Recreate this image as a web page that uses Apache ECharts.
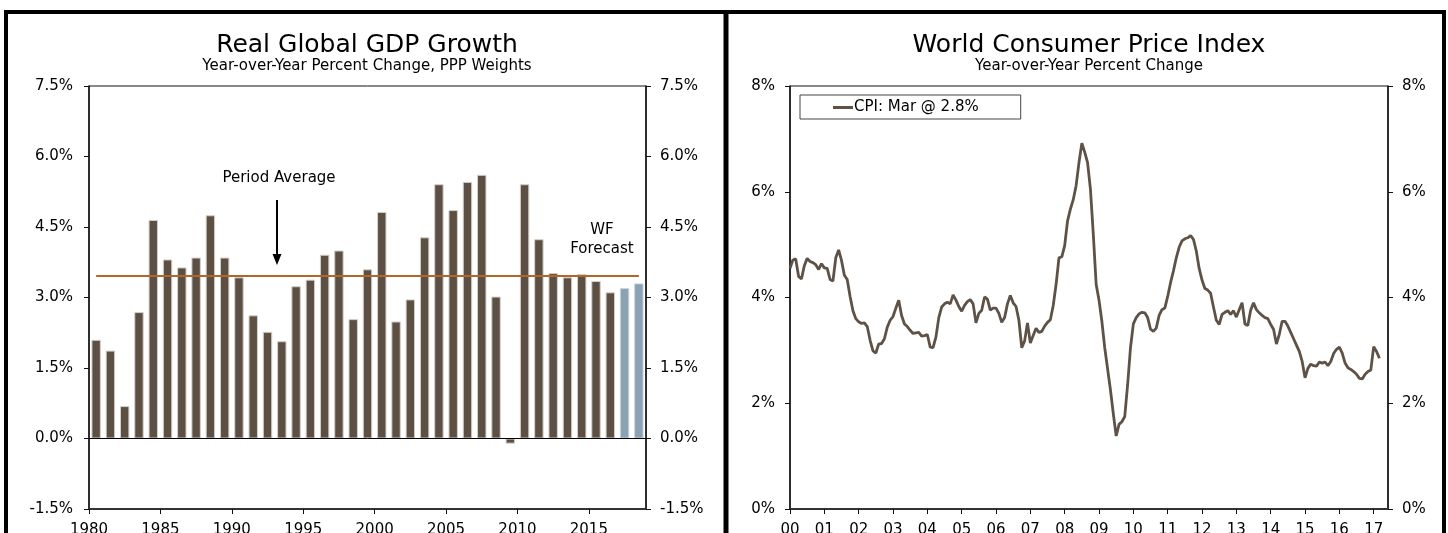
<!DOCTYPE html>
<html>
<head>
<meta charset="utf-8">
<title>Global GDP and CPI</title>
<script src="https://cdn.jsdelivr.net/npm/echarts@6/dist/echarts.min.js"></script>
<style>html,body{margin:0;padding:0;background:#fff;}</style>
</head>
<body>
<div id="main" style="width:1448px;height:533px;"></div>
<script>
// GDP growth, % y/y (PPP weights)
var gdpYears = ['1980','1981','1982','1983','1984','1985','1986','1987','1988','1989',
  '1990','1991','1992','1993','1994','1995','1996','1997','1998','1999',
  '2000','2001','2002','2003','2004','2005','2006','2007','2008','2009',
  '2010','2011','2012','2013','2014','2015','2016','2017','2018'];
var gdpActual = [2.10, 1.87, 0.69, 2.69, 4.65, 3.81, 3.64, 3.85, 4.75, 3.85,
  3.43, 2.62, 2.27, 2.07, 3.24, 3.38, 3.91, 4.00, 2.54, 3.60,
  4.82, 2.49, 2.96, 4.28, 5.41, 4.86, 5.46, 5.61, 3.02, -0.11,
  5.41, 4.24, 3.52, 3.43, 3.50, 3.35, 3.11, '-', '-'];
var gdpForecast = ['-','-','-','-','-','-','-','-','-','-',
  '-','-','-','-','-','-','-','-','-','-',
  '-','-','-','-','-','-','-','-','-','-',
  '-','-','-','-','-','-','-', 3.20, 3.30];
var gdpAvg = 3.47;
var gdpTicks = [-1.5, 7.5, 1.5];   // min, max, step

// World CPI, % y/y, monthly from Jan 2000 to Mar 2017
var cpiValues = [
  4.55, 4.71, 4.73, 4.40, 4.35, 4.60, 4.74, 4.68, 4.66, 4.62, 4.53, 4.64,
  4.56, 4.55, 4.34, 4.31, 4.75, 4.90, 4.70, 4.42, 4.34, 4.02, 3.75, 3.60,
  3.54, 3.51, 3.52, 3.45, 3.19, 2.99, 2.95, 3.12, 3.13, 3.22, 3.44, 3.57,
  3.64, 3.80, 3.95, 3.66, 3.50, 3.45, 3.38, 3.32, 3.33, 3.34, 3.27, 3.28,
  3.30, 3.06, 3.05, 3.25, 3.62, 3.82, 3.88, 3.91, 3.88, 4.05, 3.95, 3.83,
  3.74, 3.85, 3.92, 3.96, 3.88, 3.52, 3.70, 3.76, 4.01, 3.97, 3.76, 3.80,
  3.80, 3.70, 3.53, 3.62, 3.88, 4.04, 3.90, 3.83, 3.57, 3.05, 3.18, 3.52,
  3.14, 3.28, 3.42, 3.34, 3.36, 3.46, 3.53, 3.58, 3.85, 4.25, 4.75, 4.77,
  4.98, 5.45, 5.67, 5.85, 6.12, 6.55, 6.92, 6.75, 6.55, 6.05, 5.20, 4.25,
  3.95, 3.55, 3.05, 2.65, 2.25, 1.80, 1.38, 1.60, 1.65, 1.75, 2.35, 3.05,
  3.50, 3.62, 3.69, 3.72, 3.71, 3.62, 3.40, 3.36, 3.42, 3.66, 3.77, 3.80,
  4.02, 4.28, 4.50, 4.75, 4.95, 5.07, 5.11, 5.13, 5.17, 5.10, 4.88, 4.55,
  4.33, 4.17, 4.14, 4.08, 3.82, 3.57, 3.49, 3.68, 3.72, 3.75, 3.68, 3.75,
  3.63, 3.77, 3.90, 3.50, 3.47, 3.76, 3.90, 3.77, 3.71, 3.66, 3.62, 3.60,
  3.49, 3.40, 3.12, 3.30, 3.55, 3.55, 3.46, 3.34, 3.22, 3.10, 2.98, 2.79,
  2.48, 2.66, 2.74, 2.71, 2.70, 2.78, 2.76, 2.78, 2.71, 2.79, 2.94, 3.02,
  3.06, 2.95, 2.76, 2.67, 2.64, 2.60, 2.55, 2.47, 2.46, 2.55, 2.60, 2.63,
  3.07, 2.98, 2.85
];
var cpiStartYear = 2000;
var cpiAxisMonths = 210;           // axis runs Jan 2000 .. Jun 2017
var cpiTicks = [0, 8, 2];
var cpiName = 'CPI: Mar @ 2.8%';

var cpiMonths = [];
for (var i = 0; i < cpiAxisMonths; i++) {
  var y = cpiStartYear + Math.floor(i / 12);
  cpiMonths.push(y + '-' + ((i % 12) + 1));
}

var font = 'DejaVu Sans';
var dark = '#5c5045';
var blue = '#8aa2b2';
var lbl = {fontFamily: font, fontSize: 15, color: '#000'};
var yearTick = function (idx) { return idx % 12 === 0; };

function yAx(grid, pos, t, fmt, margin) {
  return {
    type: 'value', gridIndex: grid, position: pos,
    min: t[0], max: t[1], interval: t[2],
    axisLine: {show: true, onZero: false, lineStyle: {color: '#111', width: 1.5}},
    axisTick: {show: true, length: 5, lineStyle: {color: '#111'}},
    axisLabel: Object.assign({margin: margin, formatter: fmt}, lbl),
    splitLine: {show: false}
  };
}
var pct1 = function (v) { return v.toFixed(1) + '%'; };
var pct0 = function (v) { return v + '%'; };

var chart = echarts.init(document.getElementById('main'), null, {renderer: 'canvas'});
chart.setOption({
  animation: false,
  backgroundColor: '#fff',
  textStyle: {fontFamily: font},
  grid: [
    {left: 89, top: 86, width: 557, height: 423, show: true, borderColor: '#111', borderWidth: 1,
      containLabel: false, outerBoundsMode: 'none'},
    {left: 790, top: 86, width: 598, height: 423, show: true, borderColor: '#111', borderWidth: 1,
      containLabel: false, outerBoundsMode: 'none'}
  ],
  legend: {
    data: [cpiName], left: 800, top: 95,
    borderColor: '#444', borderWidth: 1, backgroundColor: '#fff',
    padding: [5, 42, 4, 33], itemWidth: 20, itemHeight: 3, icon: 'rect',
    textStyle: {fontFamily: font, fontSize: 15, color: '#000', padding: [0, 0, 0, -4]}
  },
  xAxis: [
    {type: 'category', gridIndex: 0, data: gdpYears, show: false, axisLine: {onZero: false}},
    {type: 'value', gridIndex: 0, min: 1980, max: 2019, interval: 5, position: 'bottom',
      axisLine: {show: true, onZero: false, lineStyle: {color: '#333', width: 2}},
      axisTick: {show: true, length: 5, lineStyle: {color: '#111'}},
      axisLabel: Object.assign({margin: 14, showMaxLabel: false, formatter: function (v) { return String(v); }}, lbl),
      splitLine: {show: false}},
    {type: 'category', gridIndex: 1, data: cpiMonths, boundaryGap: false,
      axisLine: {show: true, onZero: false, lineStyle: {color: '#333', width: 2}},
      axisTick: {show: true, length: 5, interval: yearTick, lineStyle: {color: '#111'}},
      axisLabel: Object.assign({margin: 14, interval: yearTick,
        formatter: function (v) { return v.split('-')[0].slice(2); }}, lbl),
      splitLine: {show: false}}
  ],
  yAxis: [
    yAx(0, 'left', gdpTicks, pct1, 16),
    yAx(0, 'right', gdpTicks, pct1, 14),
    yAx(1, 'left', cpiTicks, pct0, 15),
    yAx(1, 'right', cpiTicks, pct0, 14)
  ],
  series: [
    {type: 'bar', name: 'GDP', xAxisIndex: 0, yAxisIndex: 0, data: gdpActual,
      barWidth: '66%', itemStyle: {color: dark, borderColor: '#d6cfc7', borderWidth: 1},
      markLine: {
        symbol: 'none', silent: true, label: {show: false},
        data: [
          {yAxis: 0, lineStyle: {color: '#000', width: 1, type: 'solid'}},
          [{coord: [gdpYears[0], gdpAvg], lineStyle: {color: '#b0682a', width: 2, type: 'solid'}},
           {coord: [gdpYears[gdpYears.length - 1], gdpAvg]}]
        ]
      }},
    {type: 'bar', name: 'Forecast', xAxisIndex: 0, yAxisIndex: 0, data: gdpForecast,
      barWidth: '66%', barGap: '-100%', itemStyle: {color: blue, borderColor: '#c9d4dc', borderWidth: 1}},
    {type: 'line', name: cpiName, xAxisIndex: 2, yAxisIndex: 2, data: cpiValues,
      showSymbol: false, symbol: 'none', color: '#5e5247',
      lineStyle: {color: '#5e5247', width: 2.8}}
  ],
  graphic: [
    // panel frames
    {type: 'line', shape: {x1: 4, y1: 12, x2: 1446, y2: 12}, style: {stroke: '#000', lineWidth: 4}},
    {type: 'line', shape: {x1: 6, y1: 10, x2: 6, y2: 533}, style: {stroke: '#000', lineWidth: 4}},
    {type: 'line', shape: {x1: 726, y1: 10, x2: 726, y2: 533}, style: {stroke: '#000', lineWidth: 5}},
    {type: 'line', shape: {x1: 1444, y1: 10, x2: 1444, y2: 533}, style: {stroke: '#000', lineWidth: 4}},
    // titles
    {type: 'text', x: 367, y: 45, style: {text: 'Real Global GDP Growth', font: '25px "DejaVu Sans"', fill: '#000', align: 'center', verticalAlign: 'middle'}},
    {type: 'text', x: 367, y: 66, style: {text: 'Year-over-Year Percent Change, PPP Weights', font: '15px "DejaVu Sans"', fill: '#000', align: 'center', verticalAlign: 'middle'}},
    {type: 'text', x: 1089, y: 45, style: {text: 'World Consumer Price Index', font: '25px "DejaVu Sans"', fill: '#000', align: 'center', verticalAlign: 'middle'}},
    {type: 'text', x: 1089, y: 66, style: {text: 'Year-over-Year Percent Change', font: '15px "DejaVu Sans"', fill: '#000', align: 'center', verticalAlign: 'middle'}},
    // annotations
    {type: 'text', x: 279, y: 178, style: {text: 'Period Average', font: '15px "DejaVu Sans"', fill: '#000', align: 'center', verticalAlign: 'middle'}},
    {type: 'line', shape: {x1: 277, y1: 200, x2: 277, y2: 256}, style: {stroke: '#000', lineWidth: 2}},
    {type: 'polygon', shape: {points: [[272.5, 254], [281.5, 254], [277, 265]]}, style: {fill: '#000'}},
    {type: 'text', x: 602, y: 230, style: {text: 'WF', font: '15px "DejaVu Sans"', fill: '#000', align: 'center', verticalAlign: 'middle'}},
    {type: 'text', x: 602, y: 249, style: {text: 'Forecast', font: '15px "DejaVu Sans"', fill: '#000', align: 'center', verticalAlign: 'middle'}}
  ]
});
</script>
</body>
</html>
